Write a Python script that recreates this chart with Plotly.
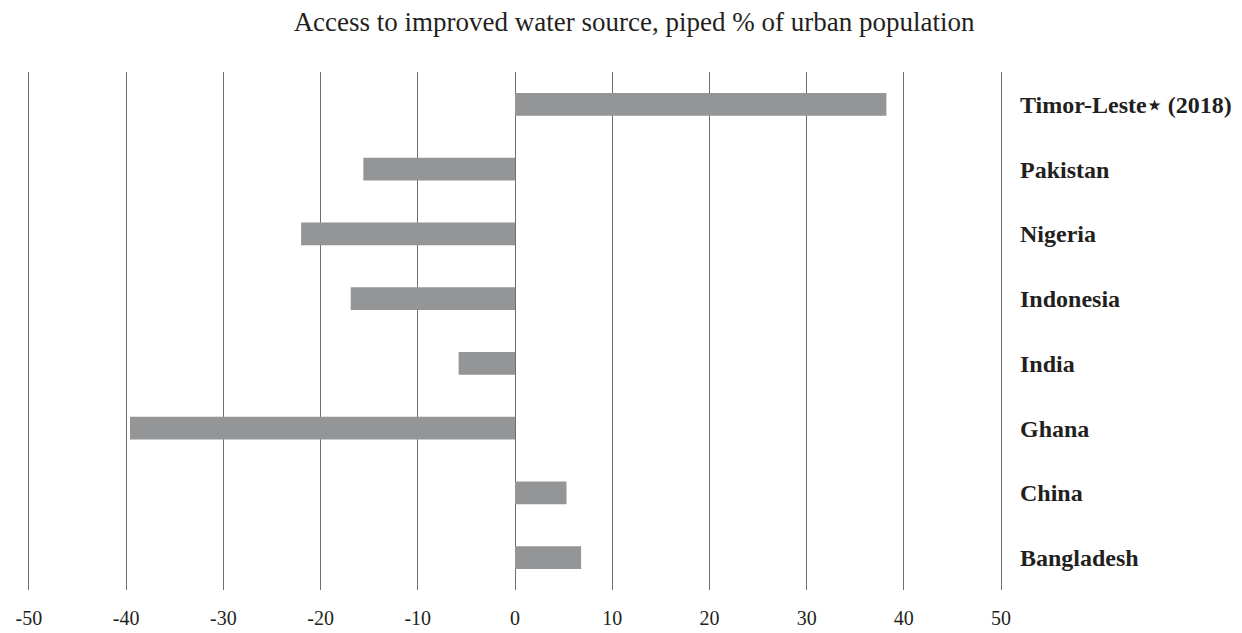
import plotly.graph_objects as go

# Change in urban population with piped water access, percentage points
countries = ["Timor-Leste\u22c6 (2018)", "Pakistan", "Nigeria", "Indonesia",
             "India", "Ghana", "China", "Bangladesh"]
values = [38.2, -15.6, -22.0, -16.9, -5.8, -39.6, 5.3, 6.8]

tick_vals = [-50, -40, -30, -20, -10, 0, 10, 20, 30, 40, 50]
tick_text = ["-50", "-40", "-30", "-20", "-10", "0", "10", "20", "30", "40", "50"]

title_text = "Access to improved water source, piped % of urban population"

SERIF = "Liberation Serif"
GRID = "#6d6e71"

fig = go.Figure(
    go.Bar(
        x=values,
        y=countries,
        orientation="h",
        marker=dict(color="#949597", line=dict(width=0)),
        hoverinfo="x+y",
    )
)

# a small pad on the x range keeps the outer gridlines at -50 and 50 visible
fig.update_layout(
    width=1242,
    height=633,
    margin=dict(l=26, r=238, t=72, b=43),
    paper_bgcolor="white",
    plot_bgcolor="white",
    bargap=0.645,
    showlegend=False,
    title=dict(
        text=title_text,
        font=dict(family=SERIF, size=27, color="#231f20"),
        x=0.5105,
        xref="container",
        xanchor="center",
        y=1 - 22 / 633,
        yref="container",
        yanchor="middle",
    ),
    font=dict(family=SERIF, color="#231f20"),
)

fig.update_xaxes(
    range=[-50.3, 50.3],
    tickvals=tick_vals,
    ticktext=tick_text,
    showgrid=True,
    gridcolor=GRID,
    gridwidth=1.3,
    zeroline=True,
    zerolinecolor=GRID,
    zerolinewidth=1.3,
    showline=False,
    ticks="",
    automargin=False,
    ticklabelstandoff=14,
    tickfont=dict(family=SERIF, size=20, color="#231f20"),
)

fig.update_yaxes(
    type="category",
    autorange="reversed",
    side="right",
    showgrid=False,
    zeroline=False,
    showline=False,
    ticks="",
    automargin=False,
    ticklabelstandoff=15,
    tickfont=dict(family=SERIF, size=24, color="#231f20", weight="bold"),
)

fig.write_html("out.html")
